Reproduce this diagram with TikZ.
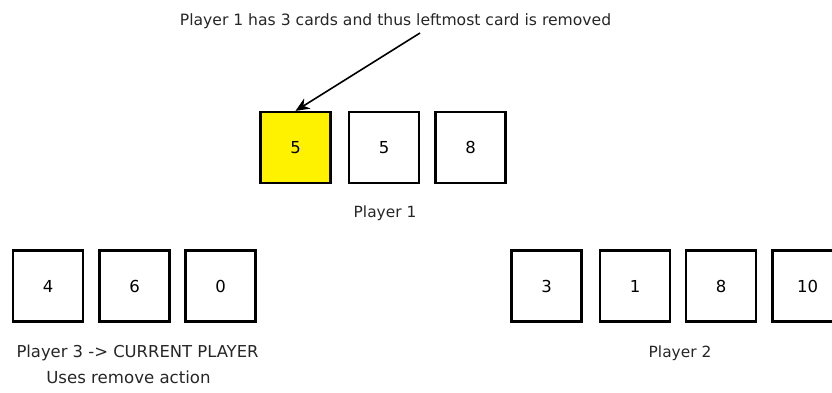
\documentclass[tikz,border=0pt]{standalone}
\usepackage{fontspec}
\setmainfont{DejaVu Sans}
\usetikzlibrary{arrows.meta}
\begin{document}
\begin{tikzpicture}[x=1pt,y=-1pt,
  card/.style={draw=black,line width=2.2pt,minimum width=70pt,minimum height=71pt,inner sep=0pt,font=\fontsize{16.5}{20}\selectfont},
  lbl/.style={inner sep=0pt,font=\fontsize{15.4}{18}\selectfont,text=black!85}]
\useasboundingbox (0,0) rectangle (832,392);
\node[lbl,font=\fontsize{15.6}{18}\selectfont] (title) at (395.5,21) {Player 1 has 3 cards and thus leftmost card is removed};
\node[card,fill=yellow] (a1) at (295.5,147.5) {5};
\node[card] (a2) at (384,147.5) {5};
\node[card] (a3) at (470.5,147.5) {8};
\node[lbl] (p1) at (385,213) {Player 1};
\node[card] (c1) at (48,286) {4};
\node[card] (c2) at (134.5,286) {6};
\node[card] (c3) at (220.5,286) {0};
\node[lbl,font=\fontsize{16.4}{19}\selectfont] (p3) at (137.5,353) {Player 3 -> CURRENT PLAYER};
\node[lbl,font=\fontsize{16.6}{19}\selectfont] (u3) at (128.5,377) {Uses remove action};
\node[card] (b1) at (546.5,286) {3};
\node[card] (b2) at (635,286) {1};
\node[card] (b3) at (721,286) {8};
\node[card] (b4) at (807.5,286) {10};
\node[lbl] (p2) at (680,353) {Player 2};
\coordinate (s) at (420,33);
\draw[line width=1.6pt,-{Stealth[length=14pt,width=12pt]}] (s) -- (a1.north);
\end{tikzpicture}
\end{document}
